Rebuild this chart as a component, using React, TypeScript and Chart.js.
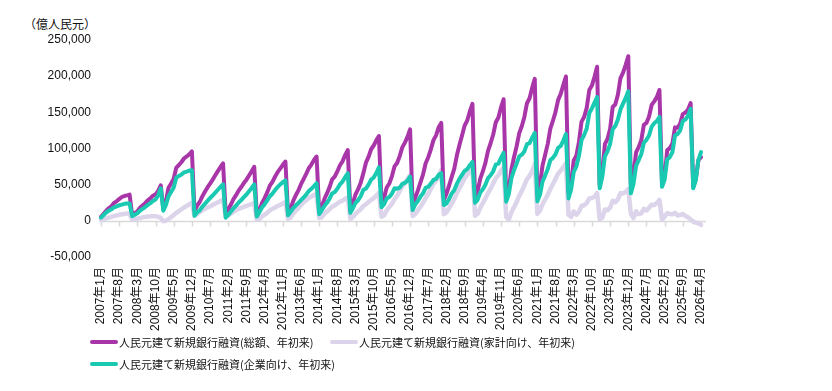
import React, { useEffect, useRef } from "react";
import { Chart, registerables } from "chart.js";

Chart.register(...registerables);

// ---- categories (monthly, 2007年1月 – 2026年4月) ----
const START_YEAR = 2007;
const MONTH_COUNT = 232;
const CATEGORIES: string[] = [];
for (let i = 0; i < MONTH_COUNT; i++) {
  CATEGORIES.push(`${START_YEAR + Math.floor(i / 12)}年${(i % 12) + 1}月`);
}

const TICK_LABELS = [
  "2007年1月", "2007年8月", "2008年3月", "2008年10月", "2009年5月", "2009年12月",
  "2010年7月", "2011年2月", "2011年9月", "2012年4月", "2012年11月", "2013年6月",
  "2014年1月", "2014年8月", "2015年3月", "2015年10月", "2016年5月", "2016年12月",
  "2017年7月", "2018年2月", "2018年9月", "2019年4月", "2019年11月", "2020年6月",
  "2021年1月", "2021年8月", "2022年3月", "2022年10月", "2023年5月", "2023年12月",
  "2024年7月", "2025年2月", "2025年9月", "2026年4月",
];

const Y_MIN = -50000;
const Y_MAX = 250000;
const Y_STEP = 50000;

const UNIT_LABEL = "（億人民元）";
const SERIES_NAMES = [
  "人民元建て新規銀行融資(総額、年初来)",
  "人民元建て新規銀行融資(家計向け、年初来)",
  "人民元建て新規銀行融資(企業向け、年初来)",
];

// ---- series values (億人民元, year-to-date) ----
const TOTAL = [
  5670, 9650, 14060, 17630, 20100, 24620, 26960, 30100, 32950, 34310, 35140, 36300,
  8040, 10470, 13300, 17950, 21130, 24450, 28340, 31060, 34760, 36570, 41340, 49100,
  16200, 26900, 45800, 51720, 58360, 73670, 77230, 81330, 86500, 89030, 91980, 95900,
  13900, 20900, 26010, 33750, 40140, 46180, 51500, 56960, 62910, 68780, 74420, 79500,
  10400, 15760, 22550, 29950, 35460, 41800, 46730, 52210, 56910, 62780, 68400, 74700,
  7380, 14490, 24600, 31420, 39350, 48550, 53950, 60990, 67220, 72280, 77500, 82000,
  10700, 16900, 27500, 35430, 42100, 50710, 57710, 64850, 72720, 77780, 84020, 88900,
  13200, 19650, 30150, 37890, 46600, 57400, 61250, 68280, 76850, 82330, 90860, 97800,
  14700, 24900, 36700, 43780, 52790, 65590, 80390, 88480, 98980, 104120, 111210, 117200,
  25100, 32370, 46070, 51620, 61480, 75280, 79910, 89400, 101600, 108110, 116060, 126500,
  20300, 32000, 42200, 53200, 64300, 79700, 87960, 98860, 111560, 118190, 129390, 135300,
  29000, 37390, 48590, 60390, 71890, 90290, 104790, 117890, 131690, 138660, 151160, 161700,
  32300, 41160, 58060, 68260, 80060, 96660, 107260, 119360, 136260, 142870, 156770, 168100,
  33400, 42460, 70960, 87960, 102760, 120860, 130780, 143580, 162580, 169480, 183780, 196300,
  35800, 49400, 76700, 91400, 106400, 127600, 138400, 150600, 167200, 175460, 188160, 199500,
  39800, 52100, 83400, 89850, 108750, 136850, 143640, 156140, 180840, 187000, 199100, 213100,
  49000, 67100, 106000, 113190, 126790, 157290, 160750, 174350, 197450, 204830, 215730, 227500,
  49200, 63700, 94600, 101900, 111400, 132700, 135300, 144300, 160200, 165200, 171000, 180900,
  51300, 61400, 97800, 100600, 106800, 129200, 128700, 134600, 147500, 149700, 153600, 162700,
  47000, 58000, 84000, 88000,
];

const HOUSEHOLD = [
  1000, 2000, 3500, 4500, 5500, 6500, 7500, 8300, 9000, 9500, 10000, 10000,
  1500, 2000, 3000, 4000, 4800, 5500, 6000, 6200, 6500, 6500, 5500, 4000,
  -500, 200, 2500, 5000, 8000, 11000, 13500, 16000, 18500, 20500, 23000, 25000,
  7000, 9500, 12000, 14500, 16500, 18500, 20000, 22000, 24000, 25500, 27500, 29000,
  6000, 7500, 10000, 12500, 14500, 16500, 18000, 19500, 20500, 22000, 23000, 24500,
  1500, 2500, 6000, 8500, 11000, 14500, 16500, 18500, 20500, 22000, 24000, 26000,
  3000, 4500, 10000, 14000, 17500, 22000, 25500, 28500, 31500, 33500, 36000, 37000,
  4000, 5000, 9500, 13000, 16000, 19500, 21500, 24000, 26500, 28000, 30500, 32000,
  3000, 5000, 9500, 13000, 16000, 20500, 23000, 26000, 29000, 31500, 35000, 38500,
  5500, 7500, 14500, 19000, 23500, 30000, 34500, 41000, 47500, 52500, 58000, 63000,
  6500, 9500, 14500, 19500, 25000, 31500, 37000, 44000, 51000, 55500, 62000, 70000,
  9000, 12000, 17500, 23500, 30000, 38000, 45000, 51500, 59000, 63500, 69000, 74000,
  7000, 9500, 18000, 24500, 31000, 38500, 44500, 51500, 59000, 63000, 69000, 74000,
  5500, 1500, 12000, 18500, 26000, 34500, 41000, 49000, 57500, 62000, 69000, 79000,
  9500, 14000, 23000, 29500, 36000, 44000, 51000, 58000, 65500, 69500, 74500, 79500,
  8500, 5500, 13000, 8500, 12500, 20500, 21500, 24500, 31000, 31500, 33500, 38500,
  2500, 4300, 15700, 14500, 18200, 27800, 25800, 29700, 38300, 37900, 40000, 44000,
  9800, 3900, 13300, 9100, 10400, 16400, 14300, 18000, 22200, 21800, 24800, 29000,
  1500, 6000, 10500, 9500, 9000, 11000, 7500, 8000, 9500, 6500, 5000, 2000,
  -1000, -2500, -3500, -5500,
];

const CORPORATE = [
  4500, 8000, 11500, 14000, 16000, 18500, 20000, 21500, 22500, 23500, 24000, 24000,
  6500, 8500, 10500, 14000, 16500, 19000, 22000, 24500, 27500, 29500, 35000, 45000,
  14000, 22000, 34000, 40000, 46000, 60000, 62000, 64000, 67000, 68000, 69500, 70000,
  7000, 11500, 14500, 19500, 23500, 27500, 31500, 35000, 39000, 43000, 47000, 50500,
  4400, 8300, 12500, 17400, 21000, 25300, 28700, 32700, 36400, 40800, 45400, 50500,
  5900, 12000, 18600, 22900, 28400, 34000, 37500, 42500, 46700, 50300, 53500, 56000,
  7700, 12400, 17500, 21400, 24600, 28700, 32200, 36300, 41200, 44300, 48000, 52000,
  9200, 14600, 20600, 24900, 30600, 37900, 39800, 44300, 50400, 54300, 60400, 65800,
  11000, 17500, 25000, 28500, 34000, 43000, 44500, 50000, 57000, 60000, 66000, 74000,
  19000, 23000, 31000, 33000, 37500, 45000, 44500, 46000, 51000, 52500, 55500, 61000,
  15000, 23000, 27500, 33500, 38000, 46000, 47000, 51500, 56500, 58000, 63500, 66000,
  22000, 24000, 30000, 37500, 42500, 51000, 58000, 63500, 69000, 71500, 77000, 81500,
  25000, 29000, 39000, 43500, 50000, 59000, 63000, 68500, 78000, 79000, 87000, 94000,
  26500, 37000, 58500, 70000, 79000, 89000, 91500, 96000, 106000, 107500, 115000, 121500,
  27000, 36000, 54500, 62500, 71500, 84000, 87000, 92000, 101000, 103500, 111000, 120000,
  31000, 43500, 67500, 75000, 89500, 111500, 118500, 127500, 149000, 155500, 163500, 171000,
  45000, 61000, 89000, 96000, 106000, 126500, 131000, 140000, 154000, 162000, 170000, 179000,
  38000, 51000, 76000, 84000, 92000, 108000, 112000, 118000, 130000, 135000, 138000, 143600,
  47000, 57000, 85000, 88000, 95000, 118000, 120000, 125000, 138000, 140000, 145000, 155000,
  45000, 56000, 84000, 95000,
];

const COLORS = ["#A936A9", "#DCD4EA", "#19C9B1"];

const FONT = '"Liberation Sans", Arial, "Noto Sans CJK JP", sans-serif';
const CJK_FONT = '"Noto Sans CJK JP", "Liberation Sans", sans-serif';

const zeroLinePlugin = {
  id: "zeroLine",
  beforeDatasetsDraw(chart: any) {
    const { ctx, chartArea, scales } = chart;
    const y = Math.round(scales.y.getPixelForValue(0)) + 0.5;
    ctx.save();
    ctx.strokeStyle = "#D9D9D9";
    ctx.lineWidth = 1.5;
    ctx.beginPath();
    ctx.moveTo(chartArea.left, y);
    ctx.lineTo(chartArea.right + 5, y);
    for (let i = 0; i < CATEGORIES.length; i += 7) {
      const x = Math.round(scales.x.getPixelForValue(i)) + 0.5;
      ctx.moveTo(x, y);
      ctx.lineTo(x, y + 5);
    }
    ctx.stroke();
    ctx.restore();
  },
};

export default function App() {
  const canvasRef = useRef<HTMLCanvasElement | null>(null);

  useEffect(() => {
    if (!canvasRef.current) return;
    const tickSet = new Set(TICK_LABELS);
    const mk = (label: string, data: number[], color: string, width: number, order: number) => ({
      label,
      data,
      borderColor: color,
      backgroundColor: color,
      borderWidth: width,
      pointRadius: 0,
      pointHoverRadius: 0,
      tension: 0,
      fill: false,
      order,
      borderJoinStyle: "round" as const,
      borderCapStyle: "round" as const,
    });
    const chart = new Chart(canvasRef.current, {
      type: "line",
      data: {
        labels: CATEGORIES,
        datasets: [
          mk(SERIES_NAMES[0], TOTAL, COLORS[0], 4, 2),
          mk(SERIES_NAMES[1], HOUSEHOLD, COLORS[1], 4.5, 3),
          mk(SERIES_NAMES[2], CORPORATE, COLORS[2], 4, 1),
        ],
      },
      options: {
        animation: false,
        responsive: false,
        maintainAspectRatio: false,
        layout: { padding: { left: 0, right: 131, top: 40, bottom: 0 } },
        plugins: {
          legend: { display: false },
          tooltip: { enabled: false },
          title: { display: false },
        },
        scales: {
          x: {
            type: "category",
            grid: { display: false, drawTicks: false },
            border: { display: false },
            afterFit: (s: any) => {
              s.height = 78;
            },
            ticks: {
              autoSkip: false,
              minRotation: 90,
              maxRotation: 90,
              padding: 10,
              color: "#111",
              font: { family: FONT, size: 12 },
              callback: (_v: any, idx: number) =>
                tickSet.has(CATEGORIES[idx]) ? CATEGORIES[idx] : "",
            },
          },
          y: {
            min: Y_MIN,
            max: Y_MAX,
            grid: { display: false, drawTicks: false },
            border: { display: false },
            afterFit: (s: any) => {
              s.width = 101;
            },
            ticks: {
              stepSize: Y_STEP,
              padding: 10,
              color: "#111",
              font: { family: FONT, size: 12 },
              callback: (v: any) => Number(v).toLocaleString("en-US"),
            },
          },
        },
      },
      plugins: [zeroLinePlugin],
    });
    return () => chart.destroy();
  }, []);

  const legendText: React.CSSProperties = {
    position: "absolute",
    fontFamily: CJK_FONT,
    fontSize: 11,
    color: "#111",
    whiteSpace: "nowrap",
    lineHeight: "14px",
  };
  const swatch = (left: number, top: number, color: string): React.CSSProperties => ({
    position: "absolute",
    left,
    top,
    width: 28,
    height: 4,
    background: color,
    borderRadius: 2,
  });

  return (
    <div
      style={{
        position: "fixed",
        left: 0,
        top: 0,
        width: 832,
        height: 391,
        background: "#fff",
        overflow: "hidden",
      }}
    >
      <div
        style={{
          position: "absolute",
          left: 24,
          top: 15,
          fontFamily: CJK_FONT,
          fontSize: 12,
          color: "#111",
          whiteSpace: "nowrap",
        }}
      >
        {UNIT_LABEL}
      </div>
      <canvas
        ref={canvasRef}
        width={832}
        height={335}
        style={{ position: "absolute", left: 0, top: 0, width: 832, height: 335 }}
      />
      <div style={swatch(90, 340, COLORS[0])} />
      <div style={{ ...legendText, left: 119, top: 335 }}>{SERIES_NAMES[0]}</div>
      <div style={swatch(330, 340, COLORS[1])} />
      <div style={{ ...legendText, left: 359, top: 335 }}>{SERIES_NAMES[1]}</div>
      <div style={swatch(90, 362, COLORS[2])} />
      <div style={{ ...legendText, left: 119, top: 357 }}>{SERIES_NAMES[2]}</div>
    </div>
  );
}
